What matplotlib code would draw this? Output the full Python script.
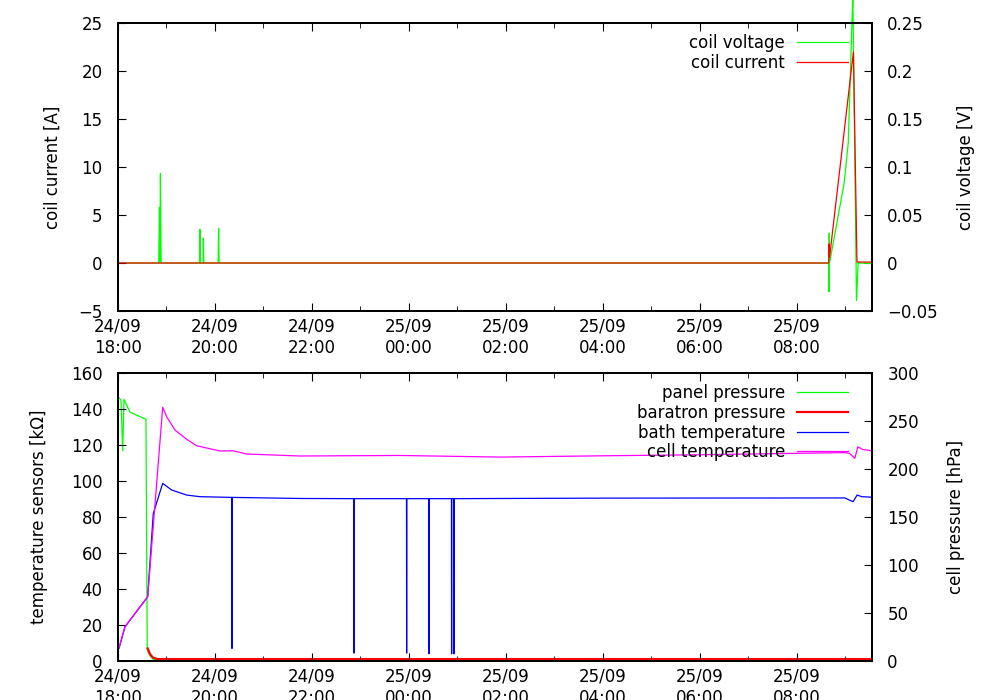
import numpy as np
import matplotlib
matplotlib.use('Agg')
import matplotlib.pyplot as plt
import matplotlib.dates as mdates
from matplotlib.ticker import FuncFormatter, MultipleLocator

plt.rcParams['font.family'] = 'DejaVu Sans'
plt.rcParams['font.size'] = 12

# time axis: hours after 24/09 18:00
t_start = np.datetime64('2011-09-24T18:00')
t_end_h = 15.55

# coil current [A]
current_t = [0, 14.655, 14.665, 14.675, 15.167, 15.24, 15.55]
current_A = [0, 0, 2.0, 0.6, 22.0, 0.1, 0.1]

# coil voltage [V]
voltage_t = [0, 0.84, 0.855, 0.865, 0.875, 0.89, 1.68, 1.69, 1.70, 1.755, 1.76, 1.77,
             2.065, 2.075, 2.085, 14.655, 14.662, 14.668, 14.675, 14.975, 15.06, 15.155,
             15.23, 15.265, 15.55]
voltage_V = [0, 0, 0.058, 0, 0.093, 0, 0, 0.035, 0, 0, 0.026, 0,
             0, 0.036, 0, 0, -0.030, 0.031, 0, 0.083, 0.125, 0.28,
             -0.039, 0, -0.0005]

# panel pressure [hPa]
panel_t = [0, 0.062, 0.097, 0.124, 0.247, 0.577, 0.603, 0.66, 0.728, 0.85, 15.55]
panel_hPa = [275, 272, 219, 272.6, 259.3, 251.8, 11.3, 5.3, 1.8, 1.0, 1.0]

# baratron pressure [hPa]
baratron_t = [0.612, 0.66, 0.72, 0.82, 15.55]
baratron_hPa = [13.1, 7.3, 3.5, 2.0, 2.0]

# bath temperature sensor [kOhm]
bath_t = [0, 0.021, 0.144, 0.612, 0.728, 0.922, 1.107, 1.416, 1.691, 2.348, 2.351, 2.354,
          2.377, 3.753, 4.863, 4.866, 4.869, 5.950, 5.953, 5.956, 6.409, 6.412, 6.415,
          6.877, 6.880, 6.883, 6.925, 6.928, 6.931, 10.0, 14.99, 15.16, 15.243, 15.34, 15.55]
bath_k = [7, 7, 19, 35.7, 82, 98.7, 95, 92.2, 91.3, 90.9, 7, 90.9,
          90.9, 90.3, 90.2, 4.4, 90.2, 90.2, 4.4, 90.2, 90.2, 4, 90.2,
          90.2, 4, 90.2, 90.2, 4, 90.2, 90.5, 90.6, 88.5, 92.2, 91.3, 91]

# cell temperature sensor [kOhm]
cell_t = [0, 0.021, 0.144, 0.612, 0.922, 1.004, 1.175, 1.416, 1.623, 2.103, 2.377, 2.654,
          3.753, 5.814, 7.876, 9.938, 12.0, 14.06, 14.99, 15.09, 15.196, 15.258, 15.36, 15.55]
cell_k = [7, 7.5, 19, 35.7, 141, 135.7, 128.3, 123.2, 119.6, 116.7, 116.8, 115,
          113.9, 114.2, 113.3, 114.0, 114.6, 115.4, 115.8, 115.3, 112.6, 119, 117.5, 116.8]


def to_time(hours):
    return t_start + (np.array(hours) * 3600).astype('timedelta64[s]')


def num_fmt(v, pos):
    return ('%g' % round(v, 4)).replace('-', '\u2212')


def style_time_axis(ax):
    ax.xaxis.set_major_locator(mdates.HourLocator(byhour=range(0, 24, 2)))
    ax.xaxis.set_minor_locator(mdates.HourLocator())
    ax.xaxis.set_major_formatter(mdates.DateFormatter('%d/%m\n%H:%M'))
    ax.set_xlim(to_time(0), to_time(t_end_h))
    ax.tick_params(axis='x', which='both', direction='in', top=True, pad=5)
    ax.tick_params(axis='x', which='major', length=6)
    ax.tick_params(axis='x', which='minor', length=3.5)
    ax.tick_params(axis='y', direction='in', length=6, pad=11)
    for s in ax.spines.values():
        s.set_linewidth(1.4)


fig = plt.figure(figsize=(10, 7), dpi=100)
ax1 = fig.add_axes([0.118, 0.5557, 0.754, 0.4114])
ax3 = fig.add_axes([0.118, 0.0557, 0.754, 0.4114])

# top: coil
ax2 = ax1.twinx()
l_v, = ax2.plot(to_time(voltage_t), voltage_V, color='#00ff00', lw=0.9, label='coil voltage', clip_on=False)
l_c, = ax1.plot(to_time(current_t), current_A, color='#ff0000', lw=0.9, label='coil current')
ax1.set_zorder(ax2.get_zorder() + 1)
ax1.patch.set_visible(False)
ax1.set_ylim(-5, 25)
ax2.set_ylim(-0.05, 0.25)
ax1.yaxis.set_major_locator(MultipleLocator(5))
ax2.yaxis.set_major_locator(MultipleLocator(0.05))
ax1.yaxis.set_major_formatter(FuncFormatter(num_fmt))
ax2.yaxis.set_major_formatter(FuncFormatter(num_fmt))
style_time_axis(ax1)
style_time_axis(ax2)
ax1.set_ylabel('coil current [A]')
ax2.set_ylabel('coil voltage [V]')
ax1.yaxis.set_label_coords(-0.075, 0.5)
ax2.yaxis.set_label_coords(1.113, 0.5)
ax1.legend([l_v, l_c], ['coil voltage', 'coil current'], loc='upper right',
           bbox_to_anchor=(0.968, 0.961), frameon=False, markerfirst=False,
           borderpad=0, borderaxespad=0, labelspacing=0.1,
           handlelength=3.05, handletextpad=0.72, fontsize=12)

# bottom: sensors
ax4 = ax3.twinx()
l_p, = ax4.plot(to_time(panel_t), panel_hPa, color='#00ff00', lw=0.9, label='panel pressure')
l_b, = ax4.plot(to_time(baratron_t), baratron_hPa, color='#ff0000', lw=1.6, label='baratron pressure')
l_bt, = ax3.plot(to_time(bath_t), bath_k, color='#0000ff', lw=0.9, label='bath temperature')
l_ct, = ax3.plot(to_time(cell_t), cell_k, color='#ff00ff', lw=0.9, label='cell temperature')
ax3.set_zorder(ax4.get_zorder() + 1)
ax3.patch.set_visible(False)
ax3.set_ylim(0, 160)
ax4.set_ylim(0, 300)
ax3.yaxis.set_major_locator(MultipleLocator(20))
ax4.yaxis.set_major_locator(MultipleLocator(50))
style_time_axis(ax3)
style_time_axis(ax4)
ax3.set_ylabel('temperature sensors [k\u03a9]')
ax4.set_ylabel('cell pressure [hPa]')
ax3.yaxis.set_label_coords(-0.093, 0.5)
ax4.yaxis.set_label_coords(1.099, 0.5)
ax3.legend([l_p, l_b, l_bt, l_ct],
           ['panel pressure', 'baratron pressure', 'bath temperature', 'cell temperature'],
           loc='upper right', bbox_to_anchor=(0.968, 0.961), frameon=False, markerfirst=False,
           borderpad=0, borderaxespad=0, labelspacing=0.1,
           handlelength=3.05, handletextpad=0.72, fontsize=12)

fig.savefig('out.png', dpi=100)
